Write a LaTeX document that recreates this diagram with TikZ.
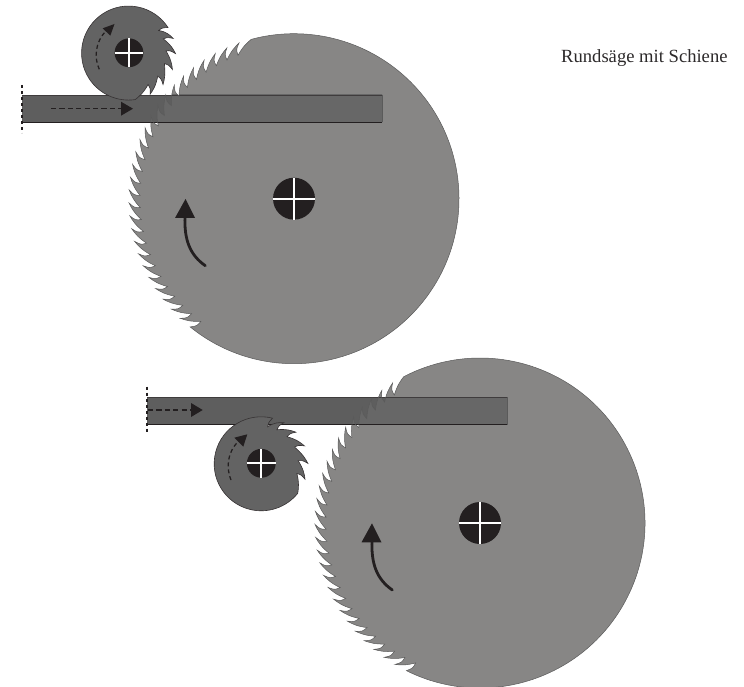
\documentclass[tikz,border=0pt]{standalone}
\usepackage{fontspec}
\setmainfont{Liberation Serif}
\definecolor{sawbig}{HTML}{878685}
\definecolor{sawsmall}{HTML}{636363}
\definecolor{railc}{HTML}{5E5E5E}
\definecolor{railover}{HTML}{676767}
\definecolor{edgec}{HTML}{5A5A5A}
\definecolor{inkc}{HTML}{231F20}
% big blade: #1 centre, #2 rotation, #3 path options
\newcommand\bigblade[3]{%
  \begin{scope}[shift={#1},yscale=-1,rotate=-#2]
  \path[#3] (105:165)
    \foreach \a [evaluate=\a as \b using \a+4.5] in {105,109.5,...,226.5}
    { .. controls (\a+1.8:162.8) and (\a+3.6:160.5) .. (\b+1.8:154)
      .. controls (\b+1.7:160) .. (\b:165) }
    arc[start angle=231,end angle=465,radius=165] -- cycle;
  \end{scope}}
% small blade: #1 centre, #2 rotation, #3 path options
\newcommand\smallblade[3]{%
  \begin{scope}[shift={#1},yscale=-1,rotate=-#2]
  \path[#3] (-82:47)
    \foreach \a/\b in {-82/-63,-63/-43,-43/-21,-21/-1,-1/18,18/33}
    { .. controls (\a+6:44.4) and (\a+12:42.6) .. (\b+4:37)
      .. controls (\b+4:41.5) .. (\b:46.5) }
    arc[start angle=33,end angle=278,radius=47] -- cycle;
  \end{scope}}
% hub with white cross
\newcommand\hubdisc[2]{%
  \fill[inkc] #1 circle[radius=#2];
  \begin{scope}[shift={#1}]
  \draw[white,line width=1.7pt] (-#2,0) -- (#2,0);
  \draw[white,line width=1.7pt] (0,-#2) -- (0,#2);
  \end{scope}}
% rail: #1 shift, #2 blade centre relative to it, #3 blade rotation
\newcommand\rail[3]{%
  \begin{scope}[shift={#1}]
  \fill[railc] (22,95) rectangle (382,122.5);
  \begin{scope}
    \clip (22,95) rectangle (382,122.5);
    \bigblade{#2}{#3}{fill=railover}
  \end{scope}
  \draw[edgec,line width=0.5pt] (382,95) -- (382,122.5);
  \draw[inkc!70!gray,line width=0.9pt] (22,95.3) -- (382,95.3);
  \draw[inkc,line width=0.9pt] (22,122.3) -- (382,122.3);
  \end{scope}}
\tikzset{
  straightdash/.style={inkc,line width=1.25pt,dash pattern=on 5.2pt off 3.2pt},
  curvedash/.style={inkc,line width=1.25pt,dash pattern=on 4pt off 3pt},
  stopdash/.style={inkc,line width=1.5pt,dash pattern=on 3pt off 3pt},
  thickcurve/.style={inkc,line width=2.8pt,line cap=round}
}
\begin{document}
\begin{tikzpicture}[x=1pt,y=-1pt]
\useasboundingbox (0,0) rectangle (744,687);
% upper group
\bigblade{(294,198.7)}{0}{fill=sawbig}
\rail{(0,0)}{(294,198.7)}{0}
\bigblade{(294,198.7)}{0}{draw=edgec,line width=0.5pt}
\smallblade{(129,52.8)}{0}{fill=sawsmall,draw=inkc!80!gray,line width=0.6pt}
\hubdisc{(294,198.7)}{21}
\hubdisc{(129,52.8)}{14.4}
\coordinate (ls) at (51,108.7); \coordinate (le) at (121,108.7);
\draw[straightdash] (ls) -- (le);
\fill[inkc] (121,101.7) -- (133,108.7) -- (121,115.7) -- cycle;
\coordinate (vs) at (22,85); \coordinate (ve) at (22,133);
\draw[stopdash] (vs) -- (ve);
% lower group
\bigblade{(480,523)}{12.5}{fill=sawbig}
\rail{(125,302)}{(355,221)}{12.5}
\bigblade{(480,523)}{12.5}{draw=edgec,line width=0.5pt}
\smallblade{(261.3,463.3)}{43}{fill=sawsmall,draw=inkc!80!gray,line width=0.6pt}
\hubdisc{(480,523)}{21}
\hubdisc{(261.3,463.3)}{14.4}
\coordinate (ls2) at (148,410); \coordinate (le2) at (191,410);
\draw[straightdash] (ls2) -- (le2);
\fill[inkc] (191,403) -- (202.7,410) -- (191,417) -- cycle;
\coordinate (vs2) at (147,386.5); \coordinate (ve2) at (147,433.5);
\draw[stopdash] (vs2) -- (ve2);
% big curved arrows
\coordinate (ca) at (205.3,265.7); \coordinate (cb) at (185,216);
\draw[thickcurve] (ca) .. controls (190,255) and (184,240) .. (cb);
\fill[inkc] (175,218) -- (185.5,199) -- (195,218) -- cycle;
\coordinate (cc) at (392.3,590); \coordinate (cd) at (372,540);
\draw[thickcurve] (cc) .. controls (377,579.3) and (371,564.3) .. (cd);
\fill[inkc] (361.5,542.3) -- (372,523.3) -- (381.5,542.3) -- cycle;
% small dashed curved arrows
\coordinate (da) at (99.3,69.3); \coordinate (db) at (106,31);
\draw[curvedash] (da) .. controls (94,58) and (95,42) .. (db);
\fill[inkc] (102.7,28.3) -- (114.5,24) -- (110.3,35.7) -- cycle;
\coordinate (dc) at (231,480); \coordinate (dd) at (238.8,441);
\draw[curvedash] (dc) .. controls (226,468) and (227,452) .. (dd);
\fill[inkc] (234.3,437.7) -- (247.3,434.3) -- (243.3,446.7) -- cycle;
% caption
\node[anchor=base west,inner sep=0pt,text=inkc!90!gray,font=\fontsize{18.6}{22}\selectfont] (caption) at (561,63) {Rundsäge mit Schiene};
\end{tikzpicture}
\end{document}
